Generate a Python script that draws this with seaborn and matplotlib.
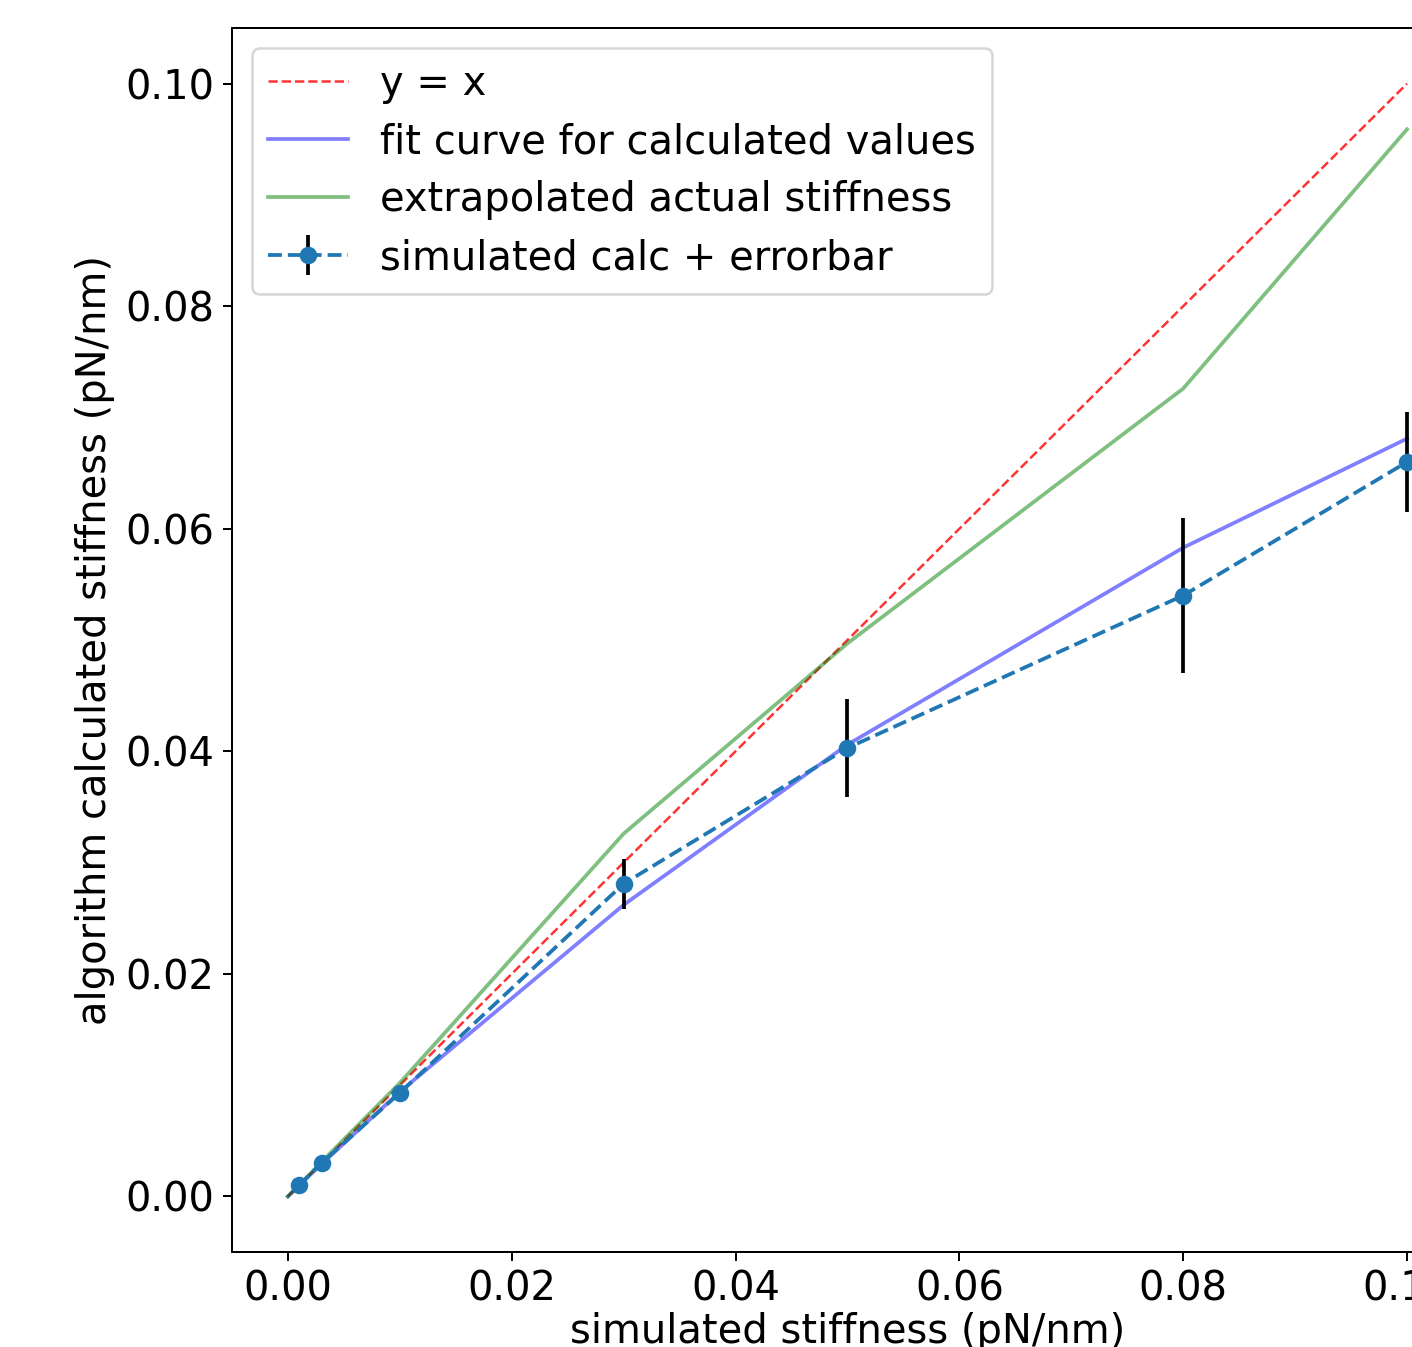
import matplotlib
matplotlib.use("Agg")
import matplotlib.pyplot as plt
import seaborn as sns
import pandas as pd

# ---- data ----
x_line = [0.0, 0.001, 0.003, 0.01, 0.03, 0.05, 0.08, 0.1]
y_identity = [0.0, 0.001, 0.003, 0.01, 0.03, 0.05, 0.08, 0.1]
y_fit = [0.0, 0.001, 0.0029, 0.0094, 0.0262, 0.0406, 0.0583, 0.0681]
y_actual = [0.0, 0.001, 0.0031, 0.0102, 0.0326, 0.0497, 0.0726, 0.0959]

x_sim = [0.001, 0.003, 0.01, 0.03, 0.05, 0.08, 0.1]
y_sim = [0.001, 0.003, 0.0093, 0.0281, 0.0403, 0.0540, 0.0660]
y_err = [0.00005, 0.0001, 0.0004, 0.00225, 0.0044, 0.0070, 0.0045]

xticks = [0.0, 0.02, 0.04, 0.06, 0.08, 0.1]
yticks = [0.0, 0.02, 0.04, 0.06, 0.08, 0.1]

DPI = 180
plt.rcParams['font.size'] = 16
fig = plt.figure(figsize=(1412 / DPI, 1347 / DPI), dpi=DPI)
ax = fig.add_axes([0.1643, 0.0705, 0.8718, 0.9087])

df = pd.DataFrame({"x": x_line, "identity": y_identity, "fit": y_fit, "actual": y_actual})

sns.lineplot(data=df, x="x", y="identity", ax=ax, color="r", linestyle="--",
             linewidth=1, alpha=0.8, label="y = x")
sns.lineplot(data=df, x="x", y="fit", ax=ax, color="b", linewidth=1.5,
             alpha=0.5, label="fit curve for calculated values")
sns.lineplot(data=df, x="x", y="actual", ax=ax, color="g", linewidth=1.5,
             alpha=0.5, label="extrapolated actual stiffness")
ax.errorbar(x_sim, y_sim, yerr=y_err, fmt="--o", color="C0", ecolor="k",
            label="simulated calc + errorbar")

ax.set_xlim(-0.005, 0.105)
ax.set_ylim(-0.005, 0.105)
ax.set_xticks(xticks)
ax.set_yticks(yticks)
ax.set_xticklabels([f"{v:.2f}" for v in xticks])
ax.set_yticklabels([f"{v:.2f}" for v in yticks])
ax.set_xlabel("simulated stiffness (pN/nm)", labelpad=1)
ax.set_ylabel("algorithm calculated stiffness (pN/nm)")
ax.legend(loc="upper left", labelspacing=0.45)

fig.savefig("out.png", dpi=DPI)
